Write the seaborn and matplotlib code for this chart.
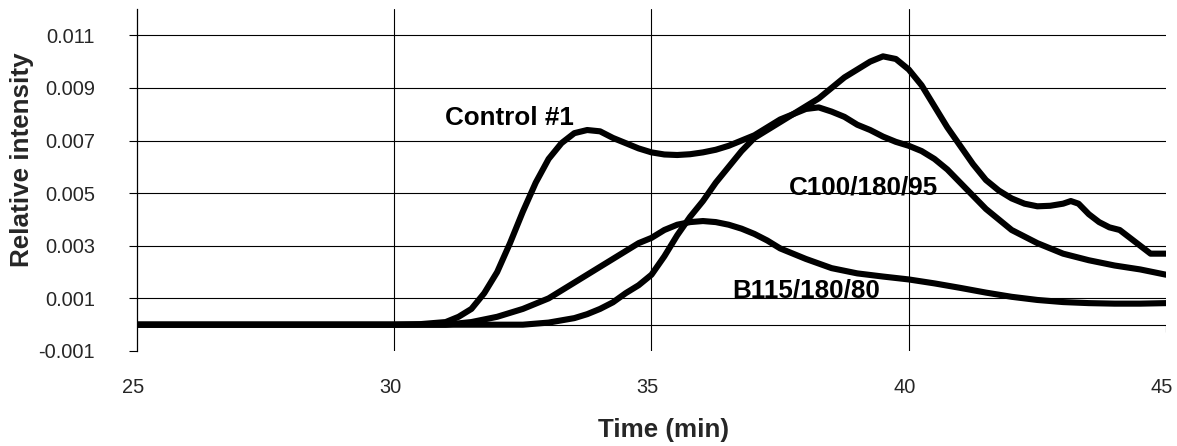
import numpy as np
import pandas as pd
import matplotlib
matplotlib.use("Agg")
import matplotlib.pyplot as plt
import matplotlib.transforms as mtransforms
import seaborn as sns

# Elution profiles: time (min) and relative intensity
control_time = [25.0, 30.0, 30.5, 31.0, 31.25, 31.5, 31.75, 32.0, 32.25, 32.5, 32.75,
                33.0, 33.25, 33.5, 33.75, 34.0, 34.25, 34.5, 34.75, 35.0, 35.25,
                35.5, 35.75, 36.0, 36.25, 36.5, 36.75, 37.0, 37.25, 37.5, 37.75,
                38.0, 38.25, 38.5, 38.75, 39.0, 39.25, 39.5, 39.75, 40.0, 40.25,
                40.5, 40.75, 41.0, 41.25, 41.5, 41.75, 42.0, 42.25, 42.5, 42.75,
                43.0, 43.15, 43.3, 43.5, 43.7, 43.9, 44.1, 44.3, 44.5, 44.7,
                44.85, 45.0]
control_val = [0.0, 0.0, 0.00002, 0.0001, 0.0003, 0.0006, 0.0012, 0.0020, 0.0031, 0.0043, 0.0054,
               0.0063, 0.0069, 0.00728, 0.0074, 0.00735, 0.0071, 0.0069, 0.0067, 0.00655, 0.00647,
               0.00645, 0.00648, 0.00655, 0.00665, 0.0068, 0.0070, 0.0072, 0.0075, 0.0078, 0.0080,
               0.0083, 0.0086, 0.0090, 0.0094, 0.0097, 0.0100, 0.0102, 0.0101, 0.0097, 0.0091,
               0.0083, 0.0075, 0.0068, 0.0061, 0.0055, 0.0051, 0.0048, 0.0046, 0.0045, 0.00452,
               0.0046, 0.0047, 0.0046, 0.0042, 0.0039, 0.0037, 0.0036, 0.0033, 0.0030, 0.0027,
               0.0027, 0.0027]

c100_time = [25.0, 32.5, 33.0, 33.5, 33.75, 34.0, 34.25, 34.5, 34.75, 35.0, 35.25,
             35.5, 35.75, 36.0, 36.25, 36.5, 36.75, 37.0, 37.25, 37.5, 37.75,
             38.0, 38.25, 38.5, 38.75, 39.0, 39.25, 39.5, 39.75, 40.0, 40.25,
             40.5, 40.75, 41.0, 41.25, 41.5, 41.75, 42.0, 42.5, 43.0, 43.5,
             44.0, 44.5, 45.0]
c100_val = [0.0, 0.0, 0.00008, 0.00025, 0.0004, 0.0006, 0.00085, 0.0012, 0.0015, 0.0019, 0.0026,
            0.0034, 0.0041, 0.0047, 0.0054, 0.0060, 0.0066, 0.0071, 0.0074, 0.0077, 0.0080,
            0.0082, 0.00826, 0.0081, 0.0079, 0.0076, 0.0074, 0.00715, 0.00695, 0.0068, 0.0066,
            0.0063, 0.0059, 0.0054, 0.0049, 0.0044, 0.0040, 0.0036, 0.0031, 0.0027, 0.00245,
            0.00225, 0.0021, 0.0019]

b115_time = [25.0, 31.0, 31.5, 32.0, 32.5, 33.0, 33.25, 33.5, 33.75, 34.0, 34.25,
             34.5, 34.75, 35.0, 35.25, 35.5, 35.75, 36.0, 36.25, 36.5, 36.75,
             37.0, 37.25, 37.5, 37.75, 38.0, 38.5, 39.0, 39.5, 40.0, 40.5,
             41.0, 41.5, 42.0, 42.5, 43.0, 43.5, 44.0, 44.5, 45.0]
b115_val = [0.0, 0.0, 0.0001, 0.0003, 0.0006, 0.0010, 0.0013, 0.0016, 0.0019, 0.0022, 0.0025,
            0.0028, 0.0031, 0.0033, 0.0036, 0.0038, 0.0039, 0.00394, 0.0039, 0.0038, 0.00365,
            0.00345, 0.0032, 0.0029, 0.0027, 0.0025, 0.00215, 0.00195, 0.00183, 0.00172, 0.00157,
            0.0014, 0.00122, 0.00106, 0.00094, 0.00086, 0.00082, 0.0008, 0.0008, 0.00082]

series_names = ["Control #1", "C100/180/95", "B115/180/80"]
y_ticks = [-0.001, 0.001, 0.003, 0.005, 0.007, 0.009, 0.011]
x_ticks = [25, 30, 35, 40, 45]

frames = []
for name, t, v in zip(series_names,
                      [control_time, c100_time, b115_time],
                      [control_val, c100_val, b115_val]):
    frames.append(pd.DataFrame({"time": t, "intensity": v, "sample": name}))
df = pd.concat(frames, ignore_index=True)

sns.set_style("white")
plt.rcParams["font.family"] = ["Liberation Sans", "DejaVu Sans"]

fig = plt.figure(figsize=(11.77, 4.46), dpi=100)
ax = fig.add_axes([137 / 1177, 1 - 351 / 446, 1029 / 1177, 342 / 446])

# reference lines: horizontal grid, zero line, vertical grid
for v in y_ticks[1:]:
    ax.axhline(v, color="black", lw=0.8, zorder=1)
ax.axhline(0, color="black", lw=0.8, zorder=1)
for t in x_ticks[1:-1]:
    ax.axvline(t, color="black", lw=0.8, zorder=1)
ax.vlines(45, -0.00027, 0, color="black", lw=0.8, zorder=1)

sns.lineplot(data=df, x="time", y="intensity", hue="sample", units="sample",
             estimator=None, sort=False, palette=["black"] * 3, legend=False,
             linewidth=4.4, ax=ax, zorder=3)
for line in ax.lines:
    line.set_solid_joinstyle("round")
    line.set_solid_capstyle("round")

ax.set_xlim(25, 45)
ax.set_ylim(-0.001, 0.012)

for side in ["top", "right", "bottom"]:
    ax.spines[side].set_visible(False)
ax.spines["left"].set_color("black")
ax.spines["left"].set_linewidth(0.9)

ax.set_yticks(y_ticks)
ax.set_yticklabels([f"{v:.3f}" for v in y_ticks])
ax.tick_params(axis="y", direction="out", length=5.8, width=0.8, color="black",
               pad=24.5, labelsize=14.4, left=True)
ax.set_xticks(x_ticks)
ax.set_xticklabels([str(t) for t in x_ticks])
ax.tick_params(axis="x", length=0, pad=19.4, labelsize=14.4, bottom=True)
shift = mtransforms.ScaledTranslation(-4 / 100, 0, fig.dpi_scale_trans)
for lab in ax.get_xticklabels():
    lab.set_transform(lab.get_transform() + shift)

ax.set_xlabel("Time (min)", fontsize=18.7, fontweight="bold")
ax.xaxis.set_label_coords(0.512, -0.231)
ax.xaxis.label.set_va("center")
ax.set_ylabel("Relative intensity", fontsize=18.7, fontweight="bold")
ax.yaxis.set_label_coords(-0.1118, 0.558)
ax.yaxis.label.set_va("center")
ax.yaxis.label.set_ha("center")

label_pos = {"Control #1": (32.23, 0.0076),
             "C100/180/95": (39.12, 0.00496),
             "B115/180/80": (38.0, 0.00104)}
for name in series_names:
    tx, ty = label_pos[name]
    ax.text(tx, ty, name, ha="center", va="baseline", fontsize=18.7,
            fontweight="bold", color="black", zorder=4)

fig.savefig("out.png", dpi=100, facecolor="white")
